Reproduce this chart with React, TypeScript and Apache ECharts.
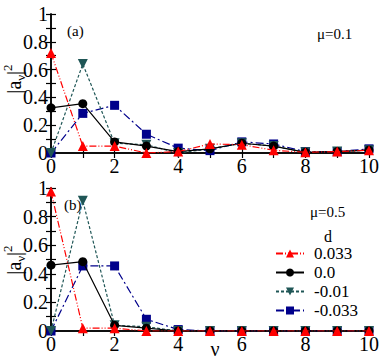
import React, { useEffect, useRef } from "react";
import * as echarts from "echarts";

const nu = [0, 1, 2, 3, 4, 5, 6, 7, 8, 9, 10];
const names = ["0.033", "0.0", "-0.01", "-0.033"];
// top panel, mu = 0.1
const topRed = [0.72, 0.05, 0.05, 0.0, 0.01, 0.065, 0.06, 0.02, 0.005, 0.01, 0.02];
const topBlack = [0.325, 0.355, 0.08, 0.05, 0.01, 0.03, 0.07, 0.05, 0.005, 0.01, 0.02];
const topGreen = [0.0, 0.64, 0.07, 0.06, 0.0, 0.03, 0.07, 0.05, 0.005, 0.01, 0.02];
const topBlue = [0.0, 0.285, 0.343, 0.135, 0.035, 0.017, 0.08, 0.065, 0.01, 0.01, 0.03];
// bottom panel, mu = 0.5
const botRed = [0.975, 0.02, 0.02, 0.0, 0.0, 0.0, 0.0, 0.0, 0.0, 0.0, 0.0];
const botBlack = [0.46, 0.485, 0.04, 0.02, 0.0, 0.0, 0.0, 0.0, 0.0, 0.0, 0.0];
const botGreen = [0.0, 0.91, 0.04, 0.03, 0.0, 0.0, 0.0, 0.0, 0.0, 0.0, 0.0];
const botBlue = [0.0, 0.455, 0.455, 0.082, 0.01, 0.0, 0.0, 0.0, 0.0, 0.0, 0.0];

const FONT = "Liberation Serif, DejaVu Serif, serif";

const styles = [
  { color: "#ff0000", symbol: "triangle", rotate: 0, dash: [7, 2, 1, 2, 1, 2] as any, size: 10 },
  { color: "#000000", symbol: "circle", rotate: 0, dash: "solid" as any, size: 9 },
  { color: "#1f5656", symbol: "triangle", rotate: 180, dash: [3, 2] as any, size: 10 },
  { color: "#00008b", symbol: "rect", rotate: 0, dash: [8, 3, 2, 3] as any, size: 9 },
];

function mkSeries(idx: number, data: number[], panel: number) {
  const s = styles[idx];
  return {
    type: "line",
    name: names[idx],
    xAxisIndex: panel * 2,
    yAxisIndex: panel * 2,
    data: nu.map((x, i) => [x, data[i]]),
    symbol: s.symbol,
    symbolSize: s.size,
    symbolRotate: s.rotate,
    showAllSymbol: true,
    itemStyle: { color: s.color },
    lineStyle: { color: s.color, width: 1.2, type: s.dash },
    z: 10 - idx,
  };
}

const axisLine = { show: true, lineStyle: { color: "#000", width: 1.5 } };
const tick = { show: true, inside: true, length: 5, lineStyle: { color: "#000", width: 1.2 } };

function xAxes(grid: number) {
  return [
    {
      gridIndex: grid,
      type: "value",
      min: 0,
      max: 10,
      interval: 1,
      position: "bottom",
      axisLine,
      axisTick: tick,
      splitLine: { show: false },
      axisLabel: {
        margin: 3,
        fontFamily: FONT,
        fontSize: 20,
        color: "#000",
        formatter: (v: number) => (Math.round(v) % 2 === 0 ? String(Math.round(v)) : ""),
      },
    },
    {
      gridIndex: grid,
      type: "value",
      min: 0,
      max: 10,
      interval: 1,
      position: "top",
      axisLine,
      axisTick: tick,
      splitLine: { show: false },
      axisLabel: { show: false },
    },
  ];
}

function yAxes(grid: number) {
  return [
    {
      gridIndex: grid,
      type: "value",
      min: 0,
      max: 1,
      interval: 0.1,
      position: "left",
      axisLine,
      axisTick: tick,
      splitLine: { show: false },
      axisLabel: {
        margin: 3,
        fontFamily: FONT,
        fontSize: 20,
        color: "#000",
        formatter: (v: number) => {
          const k = Math.round(v * 10);
          if (k % 2) return "";
          if (k === 0) return "0";
          if (k === 10) return "1";
          return (k / 10).toFixed(1);
        },
      },
    },
    {
      gridIndex: grid,
      type: "value",
      min: 0,
      max: 1,
      interval: 0.1,
      position: "right",
      axisLine,
      axisTick: tick,
      splitLine: { show: false },
      axisLabel: { show: false },
    },
  ];
}

function yTitle(x: number, y: number) {
  return {
    type: "text",
    x,
    y,
    rotation: Math.PI / 2,
    style: {
      text: "|a{sub|ν}|{sup|2}",
      fontSize: 20,
      fontFamily: FONT,
      fill: "#000",
      align: "center",
      verticalAlign: "middle",
      rich: {
        sub: { fontSize: 13, fontFamily: FONT, verticalAlign: "bottom", lineHeight: 26, padding: [8, 0, 0, 0] },
        sup: { fontSize: 13, fontFamily: FONT, verticalAlign: "top", lineHeight: 26, padding: [0, 0, 10, 0] },
      },
    },
  };
}

function txt(x: number, y: number, t: string, size: number, align = "left") {
  return {
    type: "text",
    x,
    y,
    style: { text: t, fontSize: size, fontFamily: FONT, fill: "#000", align, verticalAlign: "middle" },
  };
}

export default function App() {
  const ref = useRef<HTMLDivElement>(null);
  useEffect(() => {
    const chart = echarts.init(ref.current!, undefined, { renderer: "svg" });
    const order = [3, 2, 1, 0];
    const tops = [topRed, topBlack, topGreen, topBlue];
    const bots = [botRed, botBlack, botGreen, botBlue];
    const series: any[] = [];
    order.forEach((i) => series.push(mkSeries(i, tops[i], 0)));
    order.forEach((i) => series.push(mkSeries(i, bots[i], 1)));
    chart.setOption({
      animation: false,
      backgroundColor: "#fff",
      grid: [
        { left: 51, right: 9, top: 14, height: 139 },
        { left: 51, right: 9, top: 188, height: 143 },
      ],
      xAxis: [...xAxes(0), ...xAxes(1)],
      yAxis: [...yAxes(0), ...yAxes(1)],
      legend: {
        data: names,
        orient: "vertical",
        left: 275,
        top: 245,
        itemWidth: 28,
        itemHeight: 10,
        itemGap: 2,
        padding: 0,
        selectedMode: false,
        textStyle: { fontFamily: FONT, fontSize: 17, color: "#000", padding: [0, 0, 0, 5], lineHeight: 16 },
      },
      graphic: [
        yTitle(14, 79),
        yTitle(14, 260),
        txt(67, 31, "(a)", 15),
        txt(64, 205, "(b)", 15),
        txt(317, 34, "μ=0.1", 15),
        txt(310, 212, "μ=0.5", 15),
        txt(328, 236, "d", 16, "center"),
        txt(215, 349, "ν", 20, "center"),
      ],
      series,
    });
    return () => chart.dispose();
  }, []);
  return (
    <div style={{ position: "absolute", left: 0, top: 0 }}>
      <div ref={ref} style={{ width: 382, height: 362 }} />
    </div>
  );
}
